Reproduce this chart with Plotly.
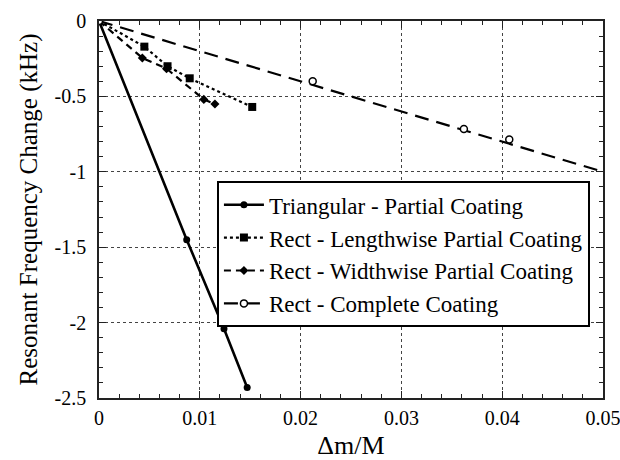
import plotly.graph_objects as go

# Data
tri_x = [0.0, 0.0087, 0.0124, 0.0147]
tri_y = [0.0, -1.45, -2.04, -2.43]

len_x = [0.0, 0.0045, 0.0068, 0.0090, 0.0152]
len_y = [0.0, -0.17, -0.30, -0.38, -0.57]

wid_x = [0.0, 0.0043, 0.0067, 0.0104, 0.0115]
wid_y = [0.0, -0.245, -0.316, -0.52, -0.55]

comp_x = [0.0, 0.0212, 0.0362, 0.0407]
comp_y = [0.0, -0.40, -0.716, -0.786]
comp_fit_x = [0.0, 0.05]
comp_fit_y = [0.0, -1.0]

names = ["Triangular - Partial Coating", "Rect - Lengthwise Partial Coating",
         "Rect - Widthwise Partial Coating", "Rect - Complete Coating"]

x_tickvals = [0, 0.01, 0.02, 0.03, 0.04, 0.05]
x_ticktext = ["0", "0.01", "0.02", "0.03", "0.04", "0.05"]
y_tickvals = [0, -0.5, -1, -1.5, -2, -2.5]
y_ticktext = ["0", "-0.5", "-1", "-1.5", "-2", "-2.5"]

FONT = "Liberation Serif"
fig = go.Figure()
fig.add_trace(go.Scatter(x=tri_x, y=tri_y, mode="lines+markers", name=names[0],
                         line=dict(color="black", width=2.6, dash="solid"),
                         marker=dict(symbol="circle", size=7, color="black")))
fig.add_trace(go.Scatter(x=len_x, y=len_y, mode="lines+markers", name=names[1],
                         line=dict(color="black", width=2.2, dash="3px,3px"),
                         marker=dict(symbol="square", size=8, color="black")))
fig.add_trace(go.Scatter(x=wid_x, y=wid_y, mode="lines+markers", name=names[2],
                         line=dict(color="black", width=2.2, dash="7px,5px"),
                         marker=dict(symbol="diamond", size=7, color="black")))
fig.add_trace(go.Scatter(x=comp_fit_x, y=comp_fit_y, mode="lines", name=names[3],
                         legendgroup="c", showlegend=False,
                         line=dict(color="black", width=2.2, dash="14px,8px")))

# markers of the complete-coating series; separated by gaps so no connecting line
cx, cy = [], []
for xv, yv in zip(comp_x, comp_y):
    cx += [xv, None]
    cy += [yv, None]
fig.add_trace(go.Scatter(x=cx, y=cy, mode="lines+markers", name=names[3],
                         legendgroup="c", connectgaps=False,
                         line=dict(color="black", width=2.2, dash="14px,8px"),
                         marker=dict(symbol="circle", size=7, color="white",
                                     line=dict(width=1.5, color="black"))))

axis_common = dict(
    showline=True, linecolor="#222", linewidth=1.5, mirror="allticks",
    ticks="inside", ticklen=7, tickcolor="#222", tickwidth=1,
    showgrid=True, gridcolor="#444", gridwidth=1, griddash="dot",
    zeroline=False, automargin=False, ticklabeloverflow="allow",
    tickfont=dict(family=FONT, size=20, color="black"),
)

fig.update_xaxes(range=[0, 0.05], tickmode="array", tickvals=x_tickvals, ticktext=x_ticktext,
                 ticklabelstandoff=1,
                 title=dict(text="Δm/M", font=dict(family=FONT, size=26, color="black"), standoff=18),
                 minor=dict(ticks="inside", ticklen=4, dtick=0.002, tick0=0, tickcolor="#222", showgrid=False),
                 **axis_common)
fig.update_yaxes(range=[-2.5, 0], tickmode="array", tickvals=y_tickvals, ticktext=y_ticktext,
                 ticklabelstandoff=7,
                 title=dict(text="Resonant Frequency Change (kHz)", font=dict(family=FONT, size=25, color="black"), standoff=10),
                 minor=dict(ticks="inside", ticklen=4, dtick=0.1, tick0=0, tickcolor="#222", showgrid=False),
                 **axis_common)

fig.update_layout(
    width=620, height=460,
    margin=dict(l=99, r=17, t=21, b=62),
    paper_bgcolor="white", plot_bgcolor="white",
    font=dict(family=FONT, color="black"),
    legend=dict(x=0.234, y=0.575, xanchor="left", yanchor="top",
                bgcolor="white", bordercolor="black", borderwidth=2,
                font=dict(family=FONT, size=23, color="black"),
                tracegroupgap=0, itemwidth=40),
)

fig.write_html("out.html")
